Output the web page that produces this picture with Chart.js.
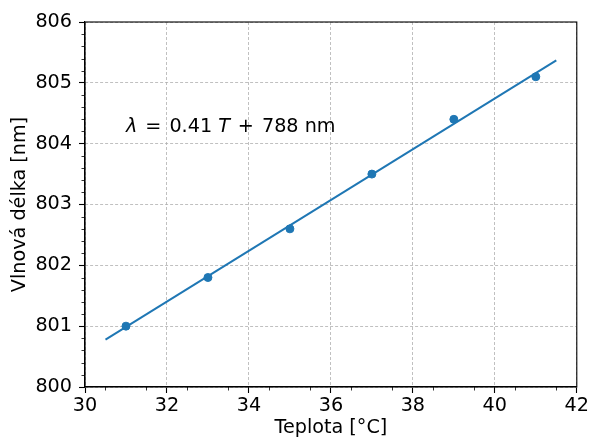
<!DOCTYPE html>
<html>
<head>
<meta charset="utf-8">
<script src="https://cdn.jsdelivr.net/npm/chart.js@4/dist/chart.umd.min.js"></script>
<style>
  body { margin: 0; background: #fff; }
  #wrap { width: 590px; height: 440px; }
</style>
</head>
<body>
<div id="wrap"><canvas id="chart" width="590" height="440"></canvas></div>
<script>
// Naměřená data
const temperatures = [31, 33, 35, 37, 39, 41];
const wavelengths = [801.0, 801.8, 802.6, 803.5, 804.4, 805.1];

// Lineární fit (koncové body přímky)
const fitT = [30.5, 41.5];
const fitLambda = [800.78, 805.37];

// Popisky os
const xTicks = [30, 32, 34, 36, 38, 40, 42];
const yTicks = [800, 801, 802, 803, 804, 805, 806];

const BLUE = '#1f77b4';
const FONT = 'DejaVu Sans';
const FS = 19.2;

// Rám grafu + vedlejší značky na osách + rovnice
const framePlugin = {
    id: 'frame',
    afterDraw(chart) {
        const { ctx, chartArea: a, scales } = chart;
        ctx.save();
        // vedlejší značky
        ctx.strokeStyle = '#000';
        ctx.lineWidth = 0.8;
        ctx.beginPath();
        for (let v = 30.5; v < 42; v += 1) {
            const px = Math.round(scales.x.getPixelForValue(v)) + 0.5;
            ctx.moveTo(px, a.bottom);
            ctx.lineTo(px, a.bottom + 3.5);
        }
        for (let i = 0; i < 30; i++) {
            if (i % 5 === 0) continue;
            const py = Math.round(scales.y.getPixelForValue(800 + i * 0.2)) + 0.5;
            ctx.moveTo(a.left, py);
            ctx.lineTo(a.left - 3.5, py);
        }
        ctx.stroke();
        // horní a pravý okraj
        ctx.lineWidth = 1.1;
        ctx.strokeRect(a.left, a.top, a.right - a.left, a.bottom - a.top);

        // text rovnice
        const x0 = scales.x.getPixelForValue(31);
        const y0 = scales.y.getPixelForValue(804.2);
        ctx.fillStyle = '#000';
        ctx.textBaseline = 'alphabetic';
        ctx.textAlign = 'left';
        const parts = [
            ['λ', true, 8], ['=', false, 8], ['0.41', false, 6], ['T', true, 8],
            ['+', false, 8], ['788 nm', false, 0]
        ];
        let x = x0;
        parts.forEach(([txt, it, gap]) => {
            ctx.font = (it ? 'italic ' : '') + FS + 'px "' + FONT + '"';
            ctx.fillText(txt, x, y0);
            x += ctx.measureText(txt).width + gap;
        });
        ctx.restore();
    }
};

const gridOpts = {
    color: '#b0b0b0',
    lineWidth: 0.8,
    tickColor: '#000',
    tickLength: 6,
    tickWidth: 1.1
};

new Chart(document.getElementById('chart'), {
    type: 'scatter',
    data: {
        datasets: [
            {
                label: 'měření',
                data: temperatures.map((t, i) => ({ x: t, y: wavelengths[i] })),
                backgroundColor: BLUE,
                borderColor: BLUE,
                pointRadius: 4,
                pointHoverRadius: 4,
                showLine: false
            },
            {
                label: 'fit',
                data: fitT.map((t, i) => ({ x: t, y: fitLambda[i] })),
                borderColor: BLUE,
                borderWidth: 2,
                pointRadius: 0,
                showLine: true
            }
        ]
    },
    options: {
        responsive: false,
        animation: false,
        layout: { padding: { top: 22, right: 13, left: 0, bottom: 0 } },
        plugins: {
            legend: { display: false },
            tooltip: { enabled: false }
        },
        scales: {
            x: {
                type: 'linear',
                min: 30,
                max: 42,
                afterBuildTicks: s => { s.ticks = xTicks.map(v => ({ value: v })); },
                afterFit: s => { s.height = 53; },
                grid: gridOpts,
                border: { color: '#000', width: 1.1, dash: [3, 2] },
                ticks: {
                    color: '#000',
                    padding: 1,
                    maxRotation: 0,
                    autoSkip: false,
                    font: { family: FONT, size: FS }
                },
                title: {
                    display: true,
                    text: 'Teplota [°C]',
                    color: '#000',
                    padding: 0,
                    font: { family: FONT, size: FS }
                }
            },
            y: {
                type: 'linear',
                min: 800,
                max: 806,
                afterBuildTicks: s => { s.ticks = yTicks.map(v => ({ value: v })); },
                afterFit: s => { s.width = 85; },
                grid: gridOpts,
                border: { color: '#000', width: 1.1, dash: [3, 2] },
                ticks: {
                    color: '#000',
                    padding: 7,
                    autoSkip: false,
                    font: { family: FONT, size: FS }
                },
                title: {
                    display: true,
                    text: 'Vlnová délka [nm]',
                    color: '#000',
                    padding: { top: 8, bottom: 0 },
                    font: { family: FONT, size: FS }
                }
            }
        }
    },
    plugins: [framePlugin]
});
</script>
</body>
</html>
